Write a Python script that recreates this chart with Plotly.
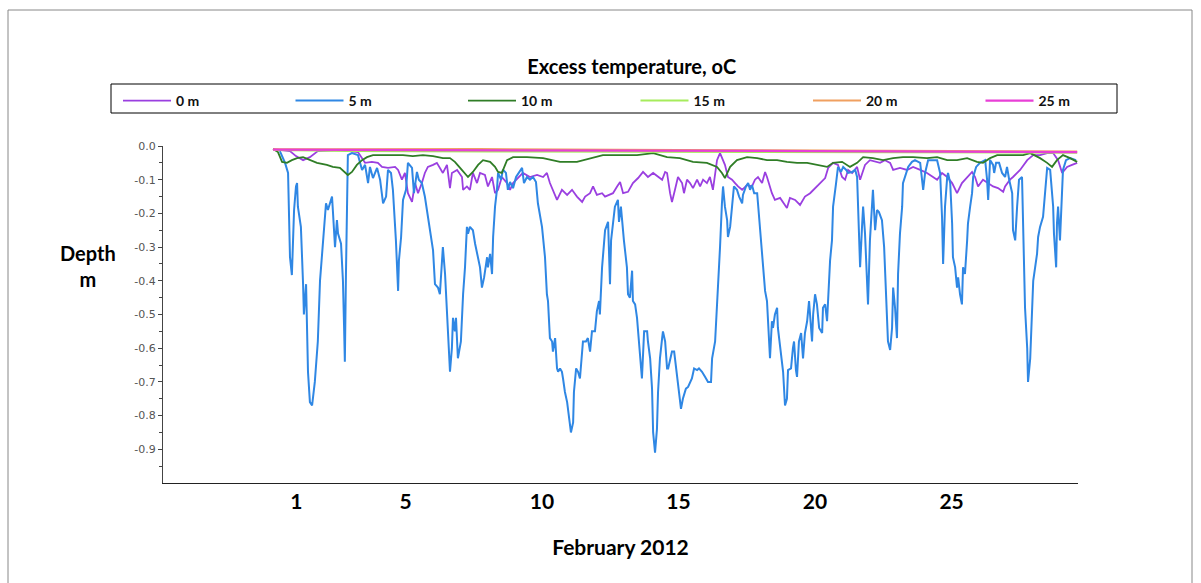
import plotly.graph_objects as go

# ---------------- data (day of February 2012, excess temperature) ----------------
day_0m = [0.15, 0.77, 0.99, 1.25, 1.50, 1.79, 2.60, 3.26, 3.52, 3.77, 3.99, 4.14, 4.36, 4.62, 4.73, 4.87, 4.98, 5.09, 5.24, 5.35,
          5.46, 5.60, 5.71, 5.82, 6.01, 6.15, 6.37, 6.52, 6.63, 6.70, 6.89, 7.07, 7.11, 7.25, 7.36, 7.47, 7.62, 7.73, 7.91, 8.02,
          8.17, 8.28, 8.39, 8.53, 8.72, 8.83, 8.94, 9.12, 9.30, 9.56, 9.82, 10.04, 10.18, 10.29, 10.48, 10.55, 10.73, 10.92, 11.10, 11.28,
          11.47, 11.58, 11.76, 11.87, 12.01, 12.20, 12.31, 12.49, 12.60, 12.75, 12.86, 12.97, 13.15, 13.33, 13.52, 13.70, 13.88, 14.07, 14.25, 14.40,
          14.51, 14.58, 14.69, 14.76, 14.87, 14.98, 15.13, 15.20, 15.31, 15.42, 15.53, 15.68, 15.79, 15.90, 16.04, 16.15, 16.26, 16.41, 16.52, 16.70,
          16.81, 16.96, 17.07, 17.18, 17.33, 17.51, 17.69, 17.80, 17.91, 18.06, 18.17, 18.24, 18.42, 18.53, 18.72, 18.83, 18.97, 19.08, 19.27, 19.45,
          19.63, 19.82, 20.00, 20.18, 20.37, 20.48, 20.66, 20.84, 20.99, 21.10, 21.21, 21.36, 21.54, 21.65, 21.83, 22.01, 22.20, 22.38, 22.56, 22.75,
          22.86, 23.11, 23.37, 23.59, 23.85, 24.10, 24.32, 24.47, 24.65, 24.84, 25.02, 25.20, 25.38, 25.57, 25.75, 25.86, 25.97, 26.15, 26.34, 26.52,
          26.70, 26.89, 26.96, 27.14, 27.25, 27.51, 27.77, 27.99, 28.24, 28.50, 28.72, 28.90, 29.05, 29.23, 29.41, 29.60]
val_0m = [-0.009, -0.015, -0.030, -0.042, -0.033, -0.015, -0.012, -0.018, -0.050, -0.047, -0.050, -0.062, -0.065, -0.062, -0.071, -0.100, -0.080, -0.140, -0.166, -0.110,
          -0.140, -0.110, -0.080, -0.062, -0.056, -0.050, -0.080, -0.056, -0.125, -0.080, -0.071, -0.092, -0.130, -0.120, -0.130, -0.080, -0.110, -0.080, -0.086, -0.120,
          -0.092, -0.140, -0.130, -0.092, -0.110, -0.130, -0.110, -0.095, -0.080, -0.092, -0.086, -0.092, -0.080, -0.110, -0.150, -0.160, -0.130, -0.145, -0.130, -0.150,
          -0.166, -0.150, -0.140, -0.120, -0.145, -0.140, -0.150, -0.145, -0.140, -0.120, -0.107, -0.140, -0.136, -0.110, -0.095, -0.077, -0.092, -0.080, -0.092, -0.100,
          -0.077, -0.080, -0.140, -0.166, -0.130, -0.092, -0.110, -0.140, -0.100, -0.110, -0.125, -0.100, -0.120, -0.100, -0.110, -0.092, -0.130, -0.042, -0.021, -0.056,
          -0.092, -0.100, -0.110, -0.120, -0.130, -0.116, -0.120, -0.100, -0.092, -0.110, -0.077, -0.092, -0.140, -0.160, -0.154, -0.166, -0.184, -0.154, -0.160, -0.175,
          -0.150, -0.140, -0.125, -0.110, -0.095, -0.065, -0.050, -0.056, -0.092, -0.100, -0.071, -0.080, -0.062, -0.100, -0.056, -0.042, -0.047, -0.050, -0.042, -0.050,
          -0.071, -0.065, -0.071, -0.062, -0.071, -0.080, -0.092, -0.100, -0.080, -0.092, -0.110, -0.140, -0.110, -0.092, -0.077, -0.092, -0.120, -0.100, -0.110, -0.120,
          -0.125, -0.136, -0.120, -0.100, -0.092, -0.071, -0.042, -0.027, -0.027, -0.021, -0.021, -0.042, -0.080, -0.062, -0.056, -0.050]

day_5m = [0.40, 0.59, 0.70, 0.73, 0.77, 0.84, 0.92, 0.99, 1.03, 1.06, 1.17, 1.25, 1.28, 1.36, 1.39, 1.43, 1.50, 1.58, 1.68, 1.79,
          1.87, 1.94, 2.01, 2.09, 2.16, 2.23, 2.31, 2.34, 2.42, 2.49, 2.53, 2.64, 2.71, 2.75, 2.78, 2.82, 2.86, 2.89, 3.04, 3.26,
          3.41, 3.52, 3.63, 3.70, 3.81, 3.96, 4.07, 4.18, 4.29, 4.36, 4.47, 4.54, 4.65, 4.73, 4.76, 4.84, 4.91, 5.02, 5.09, 5.24,
          5.31, 5.42, 5.49, 5.60, 5.71, 5.82, 5.93, 6.01, 6.08, 6.19, 6.26, 6.37, 6.45, 6.52, 6.56, 6.63, 6.70, 6.74, 6.81, 6.85,
          6.92, 7.03, 7.11, 7.18, 7.25, 7.29, 7.36, 7.47, 7.55, 7.66, 7.73, 7.80, 7.88, 7.99, 8.02, 8.10, 8.17, 8.21, 8.28, 8.35,
          8.39, 8.50, 8.57, 8.68, 8.75, 8.83, 8.94, 9.05, 9.16, 9.27, 9.34, 9.45, 9.56, 9.67, 9.78, 9.85, 10.00, 10.04, 10.11, 10.18,
          10.22, 10.29, 10.37, 10.40, 10.48, 10.55, 10.59, 10.66, 10.73, 10.77, 10.84, 10.92, 10.99, 11.06, 11.14, 11.17, 11.25, 11.32, 11.39, 11.47,
          11.50, 11.61, 11.68, 11.76, 11.83, 11.94, 12.01, 12.09, 12.12, 12.20, 12.31, 12.42, 12.45, 12.49, 12.53, 12.60, 12.67, 12.78, 12.82, 12.89,
          12.93, 13.00, 13.11, 13.15, 13.22, 13.30, 13.33, 13.41, 13.48, 13.52, 13.59, 13.66, 13.74, 13.85, 13.88, 13.96, 14.03, 14.07, 14.14, 14.21,
          14.25, 14.32, 14.40, 14.43, 14.51, 14.58, 14.62, 14.69, 14.76, 14.84, 14.91, 14.98, 15.09, 15.16, 15.27, 15.35, 15.49, 15.57, 15.68, 15.75,
          15.86, 15.97, 16.08, 16.19, 16.23, 16.34, 16.45, 16.52, 16.59, 16.63, 16.70, 16.78, 16.81, 16.89, 16.96, 17.03, 17.14, 17.22, 17.33, 17.36,
          17.47, 17.55, 17.62, 17.69, 17.77, 17.88, 17.91, 18.02, 18.10, 18.17, 18.24, 18.28, 18.35, 18.42, 18.46, 18.53, 18.61, 18.64, 18.72, 18.83,
          18.90, 18.97, 19.01, 19.12, 19.19, 19.23, 19.30, 19.34, 19.41, 19.49, 19.56, 19.63, 19.71, 19.78, 19.89, 19.93, 20.00, 20.07, 20.15, 20.26,
          20.29, 20.37, 20.44, 20.48, 20.55, 20.62, 20.66, 20.77, 20.84, 20.95, 21.03, 21.14, 21.21, 21.36, 21.47, 21.54, 21.61, 21.65, 21.72, 21.76,
          21.83, 21.90, 21.94, 22.01, 22.09, 22.12, 22.20, 22.27, 22.34, 22.45, 22.53, 22.60, 22.67, 22.75, 22.82, 22.86, 22.93, 23.00, 23.04, 23.11,
          23.19, 23.22, 23.33, 23.41, 23.55, 23.66, 23.85, 23.96, 24.03, 24.14, 24.32, 24.47, 24.58, 24.65, 24.69, 24.76, 24.84, 24.87, 24.95, 25.02,
          25.05, 25.13, 25.20, 25.24, 25.31, 25.38, 25.42, 25.49, 25.57, 25.60, 25.68, 25.75, 25.79, 25.90, 26.04, 26.23, 26.30, 26.34, 26.41, 26.52,
          26.56, 26.63, 26.74, 26.85, 26.96, 27.03, 27.11, 27.22, 27.25, 27.33, 27.40, 27.47, 27.58, 27.62, 27.69, 27.77, 27.80, 27.88, 27.95, 27.99,
          28.06, 28.13, 28.17, 28.24, 28.35, 28.39, 28.46, 28.50, 28.61, 28.72, 28.75, 28.83, 28.86, 28.90, 28.97, 29.05, 29.08, 29.19, 29.34, 29.56]
val_5m = [-0.015, -0.050, -0.080, -0.199, -0.329, -0.383, -0.190, -0.120, -0.110, -0.180, -0.240, -0.410, -0.500, -0.410, -0.500, -0.670, -0.760, -0.770, -0.700, -0.580,
          -0.400, -0.330, -0.260, -0.170, -0.190, -0.170, -0.150, -0.190, -0.300, -0.220, -0.260, -0.290, -0.400, -0.530, -0.640, -0.380, -0.080, -0.027, -0.021, -0.027,
          -0.071, -0.056, -0.110, -0.062, -0.095, -0.065, -0.100, -0.170, -0.150, -0.071, -0.080, -0.130, -0.280, -0.430, -0.340, -0.270, -0.160, -0.130, -0.050, -0.065,
          -0.140, -0.077, -0.100, -0.110, -0.150, -0.210, -0.270, -0.310, -0.410, -0.420, -0.440, -0.300, -0.380, -0.480, -0.550, -0.670, -0.600, -0.510, -0.550, -0.510,
          -0.630, -0.580, -0.440, -0.360, -0.240, -0.260, -0.240, -0.250, -0.290, -0.340, -0.360, -0.420, -0.390, -0.330, -0.360, -0.320, -0.380, -0.270, -0.180, -0.130,
          -0.080, -0.100, -0.070, -0.080, -0.130, -0.107, -0.125, -0.092, -0.080, -0.065, -0.110, -0.092, -0.100, -0.092, -0.107, -0.170, -0.240, -0.280, -0.330, -0.440,
          -0.460, -0.570, -0.580, -0.610, -0.570, -0.660, -0.670, -0.660, -0.670, -0.690, -0.730, -0.760, -0.800, -0.850, -0.820, -0.730, -0.660, -0.670, -0.690, -0.610,
          -0.580, -0.580, -0.570, -0.610, -0.550, -0.550, -0.490, -0.460, -0.500, -0.360, -0.250, -0.225, -0.300, -0.410, -0.280, -0.220, -0.180, -0.160, -0.225, -0.180,
          -0.225, -0.280, -0.360, -0.440, -0.450, -0.370, -0.460, -0.470, -0.510, -0.550, -0.630, -0.690, -0.550, -0.550, -0.580, -0.630, -0.720, -0.850, -0.910, -0.840,
          -0.730, -0.630, -0.570, -0.550, -0.580, -0.660, -0.660, -0.630, -0.610, -0.610, -0.660, -0.715, -0.780, -0.750, -0.720, -0.715, -0.690, -0.660, -0.665, -0.660,
          -0.670, -0.685, -0.700, -0.700, -0.630, -0.580, -0.430, -0.300, -0.170, -0.120, -0.180, -0.220, -0.270, -0.240, -0.180, -0.120, -0.130, -0.150, -0.170, -0.145,
          -0.120, -0.110, -0.130, -0.116, -0.140, -0.140, -0.170, -0.270, -0.350, -0.430, -0.460, -0.520, -0.630, -0.520, -0.540, -0.500, -0.480, -0.540, -0.600, -0.670,
          -0.770, -0.750, -0.665, -0.660, -0.600, -0.580, -0.665, -0.685, -0.580, -0.555, -0.630, -0.555, -0.520, -0.460, -0.580, -0.500, -0.440, -0.470, -0.540, -0.555,
          -0.480, -0.470, -0.520, -0.450, -0.340, -0.280, -0.180, -0.110, -0.062, -0.077, -0.062, -0.071, -0.080, -0.077, -0.071, -0.092, -0.230, -0.360, -0.240, -0.180,
          -0.260, -0.430, -0.470, -0.280, -0.160, -0.130, -0.250, -0.190, -0.196, -0.220, -0.300, -0.430, -0.580, -0.605, -0.540, -0.420, -0.480, -0.570, -0.380, -0.260,
          -0.180, -0.110, -0.080, -0.062, -0.047, -0.042, -0.050, -0.130, -0.080, -0.042, -0.042, -0.042, -0.080, -0.210, -0.350, -0.180, -0.092, -0.080, -0.110, -0.230,
          -0.330, -0.360, -0.420, -0.390, -0.440, -0.470, -0.360, -0.380, -0.280, -0.230, -0.180, -0.140, -0.092, -0.062, -0.050, -0.042, -0.100, -0.160, -0.042, -0.056,
          -0.080, -0.050, -0.050, -0.080, -0.092, -0.062, -0.100, -0.140, -0.250, -0.280, -0.180, -0.100, -0.092, -0.280, -0.480, -0.600, -0.700, -0.630, -0.480, -0.400,
          -0.360, -0.320, -0.270, -0.240, -0.210, -0.170, -0.100, -0.065, -0.071, -0.180, -0.260, -0.360, -0.230, -0.180, -0.280, -0.140, -0.071, -0.042, -0.036, -0.042]

day_10m = [0.15, 0.33, 0.48, 0.66, 0.84, 1.03, 1.25, 1.50, 1.76, 2.12, 2.34, 2.60, 2.78, 2.89, 3.04, 3.22, 3.41, 3.59, 3.81, 4.18,
           4.54, 4.91, 5.27, 5.64, 6.01, 6.37, 6.63, 6.81, 7.00, 7.18, 7.29, 7.47, 7.66, 7.84, 8.10, 8.28, 8.39, 8.53, 8.72, 8.94,
           9.45, 10.04, 10.66, 11.28, 11.87, 12.23, 12.86, 13.48, 14.07, 14.58, 15.05, 15.53, 16.04, 16.41, 16.59, 16.70, 16.89, 17.14, 17.51, 17.88,
           18.24, 18.61, 18.97, 19.34, 19.71, 20.07, 20.44, 20.66, 20.99, 21.28, 21.54, 21.76, 22.12, 22.49, 22.86, 23.22, 23.59, 24.10, 24.47, 24.84,
           25.20, 25.57, 25.93, 26.15, 26.41, 26.67, 27.14, 27.62, 27.88, 28.24, 28.50, 28.68, 28.86, 29.08, 29.34, 29.60]
val_10m = [-0.009, -0.018, -0.047, -0.050, -0.042, -0.036, -0.033, -0.042, -0.050, -0.056, -0.062, -0.065, -0.077, -0.086, -0.077, -0.056, -0.042, -0.033, -0.027, -0.027,
           -0.027, -0.027, -0.030, -0.027, -0.030, -0.036, -0.036, -0.047, -0.065, -0.080, -0.092, -0.077, -0.056, -0.042, -0.047, -0.062, -0.077, -0.080, -0.042, -0.033,
           -0.033, -0.036, -0.047, -0.047, -0.036, -0.027, -0.027, -0.027, -0.021, -0.033, -0.036, -0.047, -0.050, -0.062, -0.080, -0.095, -0.062, -0.042, -0.033, -0.036,
           -0.042, -0.042, -0.047, -0.050, -0.050, -0.056, -0.062, -0.050, -0.047, -0.062, -0.050, -0.033, -0.036, -0.042, -0.036, -0.033, -0.033, -0.036, -0.033, -0.042,
           -0.042, -0.036, -0.047, -0.050, -0.036, -0.027, -0.027, -0.027, -0.021, -0.036, -0.050, -0.062, -0.042, -0.027, -0.036, -0.047]

day_15m = [0.15, 3.0, 8.0, 13.0, 18.0, 22.0, 26.0, 29.60]
val_15m = [-0.012, -0.015, -0.016, -0.017, -0.018, -0.020, -0.020, -0.020]

day_20m = [0.15, 1.5, 2.2, 7.7, 8.8, 15.0, 22.0, 29.60]
val_20m = [-0.010, -0.009, -0.010, -0.009, -0.010, -0.012, -0.014, -0.016]

day_25m = [0.15, 10.0, 20.0, 29.60]
val_25m = [-0.011, -0.012, -0.015, -0.018]

series_names = ["0 m", "5 m", "10 m", "15 m", "20 m", "25 m"]
series_colors = ["#9a3fe0", "#2f87e4", "#2f7d26", "#a6ec5c", "#f0a060", "#e83fd6"]
series_days = [day_0m, day_5m, day_10m, day_15m, day_20m, day_25m]
series_vals = [val_0m, val_5m, val_10m, val_15m, val_20m, val_25m]
series_widths = [1.8, 2.0, 1.8, 2.0, 2.0, 2.2]

x_tick_vals = [1, 5, 10, 15, 20, 25]
x_tick_text = ["1", "5", "10", "15", "20", "25"]
y_tick_vals = [0.0, -0.1, -0.2, -0.3, -0.4, -0.5, -0.6, -0.7, -0.8, -0.9]
y_tick_text = ["0.0", "-0.1", "-0.2", "-0.3", "-0.4", "-0.5", "-0.6", "-0.7", "-0.8", "-0.9"]

# ---------------- figure ----------------
fig = go.Figure()
for name, col, dx, dy, w in zip(series_names, series_colors, series_days, series_vals, series_widths):
    fig.add_trace(go.Scatter(x=dx, y=dy, mode="lines", name=name,
                             line=dict(color=col, width=w)))

bold_font = "Lato, 'Open Sans', sans-serif"
PW, PH, PL, PB = 915, 337, 163, 483  # plot area geometry in px


def px_x(px):
    return (px - PL) / PW


def px_y(py):
    return (PB - py) / PH


fig.update_layout(
    width=1201, height=583,
    margin=dict(l=163, r=123, t=146, b=100),
    paper_bgcolor="white", plot_bgcolor="white",
    title=dict(text="<b>Excess temperature, oC</b>", x=0.526, xref="container", xanchor="center",
               y=1 - 67 / 583, yref="container", yanchor="middle",
               font=dict(family=bold_font, size=20, color="black")),
    showlegend=True,
    legend=dict(orientation="h", x=px_x(118), xanchor="left", y=px_y(85), yanchor="top",
                borderwidth=0, bgcolor="rgba(0,0,0,0)",
                entrywidth=109.5, entrywidthmode="pixels", itemwidth=48,
                font=dict(family=bold_font, size=14, color="#111", weight="bold"),
                traceorder="normal"),
    xaxis=dict(range=[-3.88, 29.63], showgrid=False, zeroline=False,
               showline=True, linecolor="#222", linewidth=1,
               tickmode="array", tickvals=x_tick_vals, ticktext=["<b>%s</b>" % t for t in x_tick_text],
               ticks="", tickfont=dict(family=bold_font, size=21, color="black"),
               title=dict(text="<b>February 2012</b>", font=dict(family=bold_font, size=21, color="black"), standoff=28)),
    yaxis=dict(range=[-1.0, 0.0], showgrid=False, zeroline=False,
               showline=True, linecolor="#444", linewidth=1,
               tickmode="array", tickvals=y_tick_vals, ticktext=y_tick_text,
               ticks="outside", ticklen=4, tickcolor="#444",
               minor=dict(tickvals=[-0.05, -0.15, -0.25, -0.35, -0.45, -0.55, -0.65, -0.75, -0.85, -0.95],
                          ticks="outside", ticklen=3, tickcolor="#444"),
               tickfont=dict(family="DejaVu Sans", size=11, color="#555")),
    annotations=[dict(text="<b>Depth<br>m</b>", xref="paper", yref="paper",
                      x=px_x(88), y=px_y(266), xanchor="center", yanchor="middle",
                      showarrow=False, align="center",
                      font=dict(family=bold_font, size=20, color="black"))],
    shapes=[dict(type="rect", xref="paper", yref="paper",
                 x0=px_x(8), x1=px_x(1192), y0=px_y(600), y1=px_y(10),
                 line=dict(color="#888", width=1), fillcolor="rgba(0,0,0,0)", layer="below"),
            dict(type="rect", xref="paper", yref="paper",
                 x0=px_x(111), x1=px_x(1117), y0=px_y(113), y1=px_y(84),
                 line=dict(color="black", width=1), fillcolor="rgba(0,0,0,0)", layer="above")],
)

fig.write_html("out.html")
